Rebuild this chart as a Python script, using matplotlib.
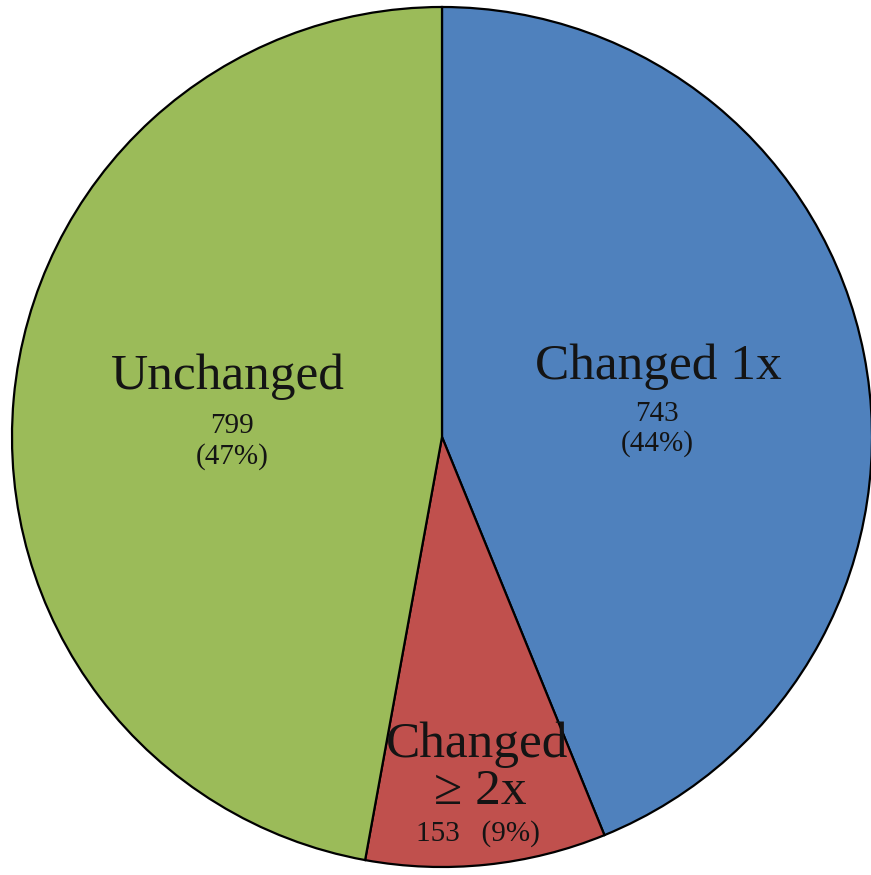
import matplotlib.pyplot as plt

# slice data, clockwise from 12 o'clock
labels = ['Changed 1x', 'Changed\n\u2265 2x', 'Unchanged']
counts = [743, 153, 799]
colors = ['#4F81BD', '#C0504D', '#9BBB59']

W, H = 871, 875
cx, cy, R = 442, 437, 430  # pie centre / radius in pixels

def px(x, y):
    # pixel (from top-left) -> data coords of the pie
    return (x - cx) / R, (cy - y) / R

fig = plt.figure(figsize=(W / 100, H / 100), dpi=100)
ax = fig.add_axes([0, 0, 1, 1])
ax.pie(counts, colors=colors, startangle=90, counterclock=False, radius=1,
       wedgeprops=dict(edgecolor='black', linewidth=1.6))
ax.set_xlim(-cx / R, (W - cx) / R)
ax.set_ylim(-(H - cy) / R, cy / R)
ax.set_aspect('equal')
ax.axis('off')

total = sum(counts)
pcts = [round(100 * c / total) for c in counts]
tc = '#141414'
fam = 'Liberation Serif'
big, small = 37, 21

# Changed 1x
ax.text(*px(658, 367), labels[0], ha='center', va='center', fontsize=big, family=fam, color=tc)
ax.text(*px(657, 414), str(counts[0]), ha='center', va='center', fontsize=small, family=fam, color=tc)
ax.text(*px(657, 444), '(%d%%)' % pcts[0], ha='center', va='center', fontsize=small, family=fam, color=tc)

# Changed >= 2x
ax.text(*px(477, 745), 'Changed', ha='center', va='center', fontsize=big, family=fam, color=tc)
ax.text(*px(480, 792), '\u2265 2x', ha='center', va='center', fontsize=big, family=fam, color=tc)
ax.text(*px(478, 834), '%d   (%d%%)' % (counts[1], pcts[1]), ha='center', va='center',
        fontsize=small, family=fam, color=tc)

# Unchanged
ax.text(*px(228, 377), labels[2], ha='center', va='center', fontsize=big, family=fam, color=tc)
ax.text(*px(232, 426), str(counts[2]), ha='center', va='center', fontsize=small, family=fam, color=tc)
ax.text(*px(232, 457), '(%d%%)' % pcts[2], ha='center', va='center', fontsize=small, family=fam, color=tc)

fig.savefig('out.png', dpi=100, facecolor='white')
